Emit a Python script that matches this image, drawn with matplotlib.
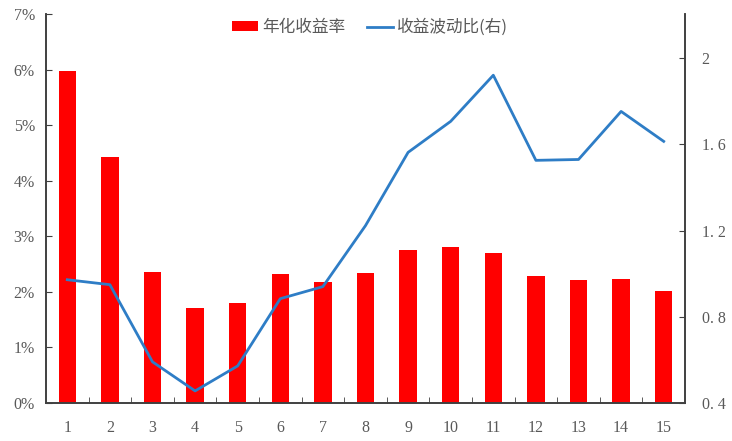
import numpy as np
import matplotlib
import matplotlib.pyplot as plt
from matplotlib.ticker import FuncFormatter, FixedLocator

matplotlib.use('Agg')

plt.rcParams['font.family'] = ['Liberation Serif', 'Noto Sans CJK SC', 'DejaVu Sans']

# 数据
periods = list(range(1, 16))
annual_return = [5.97, 4.42, 2.36, 1.71, 1.80, 2.32, 2.18, 2.34, 2.75, 2.81, 2.70, 2.28, 2.21, 2.23, 2.01]
vol_ratio = [0.972, 0.949, 0.591, 0.456, 0.572, 0.884, 0.940, 1.223, 1.563, 1.707, 1.921, 1.526, 1.530, 1.753, 1.614]

grey = '#595959'

fig = plt.figure(figsize=(7.32, 4.41), dpi=100)
ax = fig.add_axes([0.0628, 0.0862, 0.8730, 0.8820])
ax2 = ax.twinx()

b = ax.bar(periods, annual_return, width=0.41, color='#FF0000', label='年化收益率', zorder=2)
l, = ax2.plot(periods, vol_ratio, color='#2E7DC6', linewidth=2, label='收益波动比(右)')

ax.set_xlim(0.5, 15.5)
ax.set_ylim(0, 7)
ax2.set_ylim(0.4, 2.205)

ax.set_yticks(np.arange(0, 8, 1))
ax.yaxis.set_major_formatter(FuncFormatter(lambda v, p: '%d%%' % v))
ax2.set_yticks([0.4, 0.8, 1.2, 1.6, 2.0])
ax2.set_yticklabels(['0. 4', '0. 8', '1. 2', '1. 6', '2'])

ax.set_xticks(periods)
ax.xaxis.set_minor_locator(FixedLocator(np.arange(1.5, 15.5, 1)))
ax.tick_params(axis='x', which='major', length=0, pad=12, labelsize=11.5, colors=grey)
ax.tick_params(axis='x', which='minor', direction='in', length=4, color='#404040')
ax.tick_params(axis='y', direction='in', length=4, labelsize=11.5, colors=grey, pad=8)
ax2.tick_params(axis='y', direction='in', length=4, labelsize=11.5, colors=grey, pad=12)
for a in (ax, ax2):
    a.tick_params(axis='y', color='#404040')
ax.tick_params(axis='x', which='both', labelcolor=grey)

for a in (ax, ax2):
    a.spines['top'].set_visible(False)
    for s in ('left', 'right', 'bottom'):
        a.spines[s].set_color('#404040')
        a.spines[s].set_linewidth(1.2)

ax.set_zorder(ax2.get_zorder() - 1)
ax.patch.set_visible(False)

leg = fig.legend([b, l], ['年化收益率', '收益波动比(右)'], loc='center', bbox_to_anchor=(0.505, 0.938),
                 ncol=2, frameon=False, handlelength=1.6, handleheight=0.5,
                 columnspacing=1.3, handletextpad=0.2, prop={'family': ['Noto Sans CJK SC'], 'size': 12})
for t in leg.get_texts():
    t.set_color(grey)

fig.savefig('out.png', dpi=100)
